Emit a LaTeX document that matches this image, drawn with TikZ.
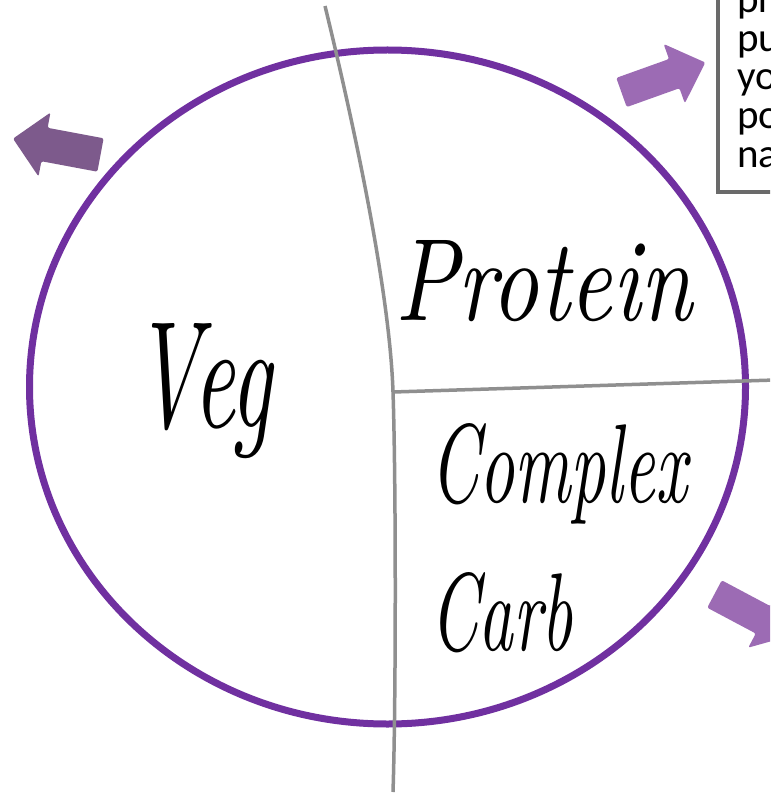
\documentclass[tikz,border=0pt]{standalone}
\usepackage{fontspec}
\usepackage{graphicx}
\newfontfamily\boxfont{Carlito}
\definecolor{platepurple}{HTML}{7030A0}
\definecolor{arrowlight}{HTML}{9C6BB4}
\definecolor{arrowdark}{HTML}{7D5A8C}
\definecolor{divgray}{HTML}{8F8F8F}
\definecolor{boxgray}{HTML}{6A6A6A}
\tikzset{
  divider/.style={draw=divgray, line width=3.5pt},
  plate/.style={draw=platepurple, line width=7pt},
  fatarrow/.style={rounded corners=2pt},
  hand/.style={inner sep=0pt, outer sep=0pt, anchor=base west, text=black},
  boxtext/.style={inner sep=0pt, anchor=base west, font=\boxfont\fontsize{41}{41}\selectfont},
}
\begin{document}
\begin{tikzpicture}[x=1pt,y=-1pt]
\useasboundingbox (0,0) rectangle (770,794);
\clip (0,0) rectangle (770,794);
\fill[white] (0,0) rectangle (770,794);

% plate
\draw[plate] (387.5,387) ellipse [x radius=358, y radius=337];

% dividers
\coordinate (topend) at (325,6);
\coordinate (mid) at (393,392);
\coordinate (botend) at (393,792);
\coordinate (rightend) at (775,380);
\draw[divider] (topend) .. controls (360,150) and (390,300) .. (mid)
  .. controls (396,480) and (396,700) .. (botend);
\draw[divider] (mid) -- (rightend);

% arrows
\fill[arrowlight, fatarrow, shift={(621.5,92.5)}, rotate=19.7]
  (0,-15.5) -- (56,-15.5) -- (56,-31.5) -- (89,0) -- (56,31.5) -- (56,15.5) -- (0,15.5) -- cycle;
\fill[arrowdark, fatarrow, shift={(100.5,155)}, rotate=169.4]
  (0,-17) -- (57,-17) -- (57,-32.5) -- (89,0) -- (57,32.5) -- (57,17) -- (0,17) -- cycle;
\fill[arrowlight, fatarrow, shift={(714.5,594)}, rotate=-28]
  (0,-15.5) -- (55,-15.5) -- (55,-31.5) -- (88,0) -- (55,31.5) -- (55,15.5) -- (0,15.5) -- cycle;

% text box (cut by the picture edge)
\draw[draw=boxgray, line width=4.5pt, fill=white] (718,-20) rectangle (830,192);
\node[boxtext] (t1) at (737,13) {pr};
\node[boxtext] (t2) at (737,52) {pu};
\node[boxtext] (t3) at (737,90) {yo};
\node[boxtext] (t4) at (737,129) {po};
\node[boxtext] (t5) at (737,168) {na};

% labels
\node[hand] (veg) at (133,427) {\resizebox{139pt}{104pt}{\itshape Veg}};
\node[hand] (protein) at (395,320) {\resizebox{297pt}{80pt}{\itshape Protein}};
\node[hand] (complex) at (430,502) {\resizebox{257pt}{79pt}{\itshape Complex}};
\node[hand] (carb) at (430,650) {\resizebox{143pt}{78pt}{\itshape Carb}};
\end{tikzpicture}
\end{document}
